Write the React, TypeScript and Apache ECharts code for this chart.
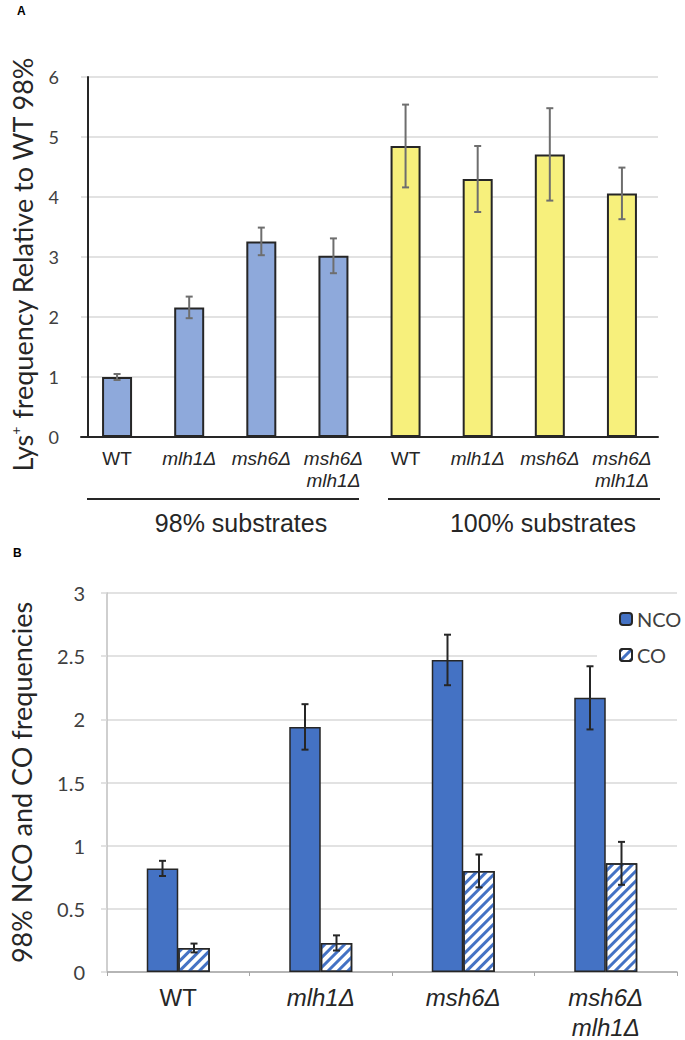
import React, { useEffect, useRef } from 'react';
import * as echarts from 'echarts';

// ---------- Panel A data ----------
const categoriesA = ['WT', 'mlh1Δ', 'msh6Δ', 'msh6Δ\nmlh1Δ', 'WT', 'mlh1Δ', 'msh6Δ', 'msh6Δ\nmlh1Δ'];
const values98 = [1.0, 2.16, 3.26, 3.02];
const errors98 = [0.05, 0.18, 0.23, 0.29];
const values100 = [4.85, 4.3, 4.71, 4.06];
const errors100 = [0.69, 0.55, 0.77, 0.43];
const groupLabelsA = ['98% substrates', '100% substrates'];
const titleA = '{a|Lys}{s|+}{a| frequency Relative to WT 98%}';

// ---------- Panel B data ----------
const categoriesB = ['WT', 'mlh1Δ', 'msh6Δ', 'msh6Δ\nmlh1Δ'];
const seriesNames = ['NCO', 'CO'];
const valuesNCO = [0.82, 1.94, 2.47, 2.17];
const errorsNCO = [0.06, 0.18, 0.2, 0.25];
const valuesCO = [0.19, 0.23, 0.8, 0.86];
const errorsCO = [0.035, 0.06, 0.13, 0.17];
const titleB = '98% NCO and CO frequencies';

const BLUE_LIGHT = '#8EA9DB';
const YELLOW = '#F7F07C';
const BLUE = '#4472C4';
const DARK = '#262626';
const GRID = '#d9d9d9';
const CALIBRI = 'Lato, "Open Sans", sans-serif';
const ARIAL = '"Liberation Sans", Arial, sans-serif';

const labelFormatter = (v: string) =>
  v
    .split('\n')
    .map((s) => (s === 'WT' ? `{n|${s}}` : `{i|${s}}`))
    .join('\n');

const makeErrRender = (offset: number, color: string, hw: number) => (params: any, api: any) => {
  const x = api.value(0);
  const lo = api.value(1);
  const hi = api.value(2);
  const pLo = api.coord([x, lo]);
  const pHi = api.coord([x, hi]);
  const cx = pLo[0] + offset;
  const style = { stroke: color, lineWidth: 2 };
  return {
    type: 'group',
    children: [
      { type: 'line', shape: { x1: cx, y1: pHi[1], x2: cx, y2: pLo[1] }, style },
      { type: 'line', shape: { x1: cx - hw, y1: pHi[1], x2: cx + hw, y2: pHi[1] }, style },
      { type: 'line', shape: { x1: cx - hw, y1: pLo[1], x2: cx + hw, y2: pLo[1] }, style },
    ],
  };
};

export default function App() {
  const ref = useRef<HTMLDivElement>(null);

  useEffect(() => {
    if (!ref.current) return;
    const chart = echarts.init(ref.current, undefined, { renderer: 'svg' });

    const barDataA = [
      ...values98.map((v) => ({ value: v, itemStyle: { color: BLUE_LIGHT } })),
      ...values100.map((v) => ({ value: v, itemStyle: { color: YELLOW } })),
    ];
    const allVals = [...values98, ...values100];
    const allErrs = [...errors98, ...errors100];
    const errDataA = allVals.map((v, i) => [i, v - allErrs[i], v + allErrs[i]]);
    const errDataNCO = valuesNCO.map((v, i) => [i, v - errorsNCO[i], v + errorsNCO[i]]);
    const errDataCO = valuesCO.map((v, i) => [i, v - errorsCO[i], v + errorsCO[i]]);

    const richA = {
      n: { fontFamily: ARIAL, fontSize: 19, color: DARK, lineHeight: 22 },
      i: { fontFamily: ARIAL, fontSize: 19, color: DARK, lineHeight: 22, fontStyle: 'italic' },
    };
    const richB = {
      n: { fontFamily: ARIAL, fontSize: 24, color: DARK, lineHeight: 30 },
      i: { fontFamily: ARIAL, fontSize: 24, color: DARK, lineHeight: 30, fontStyle: 'italic' },
    };

    const barWB = 31.5;

    chart.setOption({
      animation: false,
      backgroundColor: '#fff',
      grid: [
        { left: 81, top: 77, width: 577, height: 360 },
        { left: 103, top: 593, width: 574, height: 379 },
      ],
      legend: {
        data: seriesNames,
        orient: 'vertical',
        left: 597,
        top: 604,
        padding: [5, 5, 5, 22],
        backgroundColor: '#fff',
        itemWidth: 12,
        itemHeight: 12,
        itemGap: 16,
        textStyle: { fontFamily: CALIBRI, fontSize: 20, color: '#404040' },
      },
      xAxis: [
        {
          type: 'category',
          gridIndex: 0,
          data: categoriesA,
          axisLine: { lineStyle: { color: DARK, width: 2 } },
          axisTick: { show: false },
          axisLabel: { formatter: labelFormatter, rich: richA, margin: 10, interval: 0 },
        },
        {
          type: 'category',
          gridIndex: 1,
          data: categoriesB,
          axisLine: { lineStyle: { color: '#a6a6a6', width: 1.5 } },
          axisTick: { show: true, length: 4, lineStyle: { color: '#a6a6a6' } },
          axisLabel: { formatter: labelFormatter, rich: richB, margin: 10, interval: 0 },
        },
      ],
      yAxis: [
        {
          type: 'value',
          gridIndex: 0,
          min: 0,
          max: 6,
          interval: 1,
          offset: -7,
          axisLine: { show: true, lineStyle: { color: DARK, width: 2 } },
          axisTick: { show: false },
          axisLabel: { fontFamily: CALIBRI, fontSize: 18, color: '#404040', margin: 29 },
          splitLine: { lineStyle: { color: GRID, width: 1.5 } },
          name: titleA,
          nameLocation: 'middle',
          nameGap: 52,
          nameRotate: 90,
          nameTextStyle: {
            padding: [0, 14, 0, 0],
            rich: {
              a: { fontFamily: CALIBRI, fontSize: 27, color: DARK },
              s: { fontFamily: CALIBRI, fontSize: 14, color: DARK, padding: [0, 0, 14, 0] },
            },
          },
        },
        {
          type: 'value',
          gridIndex: 1,
          min: 0,
          max: 3,
          interval: 0.5,
          axisLine: { show: true, lineStyle: { color: '#bfbfbf', width: 1.5 } },
          axisTick: { show: true, length: 6, lineStyle: { color: GRID, width: 1.5 } },
          axisLabel: { fontFamily: CALIBRI, fontSize: 20, color: '#404040', margin: 22 },
          splitLine: { lineStyle: { color: GRID, width: 1.5 } },
          name: titleB,
          nameLocation: 'middle',
          nameGap: 72,
          nameRotate: 90,
          nameTextStyle: { fontFamily: CALIBRI, fontSize: 27, color: DARK },
        },
      ],
      series: [
        {
          type: 'bar',
          xAxisIndex: 0,
          yAxisIndex: 0,
          barWidth: 30,
          data: barDataA,
          itemStyle: { borderColor: DARK, borderWidth: 2 },
        },
        {
          type: 'custom',
          xAxisIndex: 0,
          yAxisIndex: 0,
          z: 5,
          renderItem: makeErrRender(0, '#6e6e6e', 3.5),
          data: errDataA,
        },
        {
          name: seriesNames[0],
          type: 'bar',
          xAxisIndex: 1,
          yAxisIndex: 1,
          barWidth: barWB,
          barGap: '0%',
          data: valuesNCO,
          itemStyle: { color: BLUE, borderColor: DARK, borderWidth: 1.5 },
        },
        {
          name: seriesNames[1],
          type: 'bar',
          xAxisIndex: 1,
          yAxisIndex: 1,
          barWidth: barWB,
          barGap: '0%',
          data: valuesCO,
          itemStyle: {
            color: '#ffffff',
            borderColor: DARK,
            borderWidth: 1.5,
            decal: {
              symbol: 'rect',
              symbolSize: 1,
              color: BLUE,
              dashArrayX: [1, 0],
              dashArrayY: [3, 4],
              rotation: -Math.PI / 4,
            },
          },
        },
        {
          type: 'custom',
          xAxisIndex: 1,
          yAxisIndex: 1,
          z: 5,
          renderItem: makeErrRender(-barWB / 2, DARK, 3.5),
          data: errDataNCO,
        },
        {
          type: 'custom',
          xAxisIndex: 1,
          yAxisIndex: 1,
          z: 5,
          renderItem: makeErrRender(barWB / 2, DARK, 3.5),
          data: errDataCO,
        },
      ],
      graphic: [
        { type: 'text', left: 17, top: 5, style: { text: 'A', fontFamily: ARIAL, fontWeight: 'bold', fontSize: 12, fill: '#000' } },
        { type: 'text', left: 13, top: 547, style: { text: 'B', fontFamily: ARIAL, fontWeight: 'bold', fontSize: 12, fill: '#000' } },
        { type: 'line', shape: { x1: 87, y1: 499, x2: 359, y2: 499 }, style: { stroke: DARK, lineWidth: 2 } },
        { type: 'line', shape: { x1: 388, y1: 499, x2: 660, y2: 499 }, style: { stroke: DARK, lineWidth: 2 } },
        {
          type: 'text',
          x: 241,
          y: 523,
          style: { text: groupLabelsA[0], fontFamily: ARIAL, fontSize: 25, fill: DARK, align: 'center', verticalAlign: 'middle' },
        },
        {
          type: 'text',
          x: 543,
          y: 523,
          style: { text: groupLabelsA[1], fontFamily: ARIAL, fontSize: 25, fill: DARK, align: 'center', verticalAlign: 'middle' },
        },
      ],
    });

    return () => chart.dispose();
  }, []);

  return <div ref={ref} style={{ position: 'absolute', left: 0, top: 0, width: 685, height: 1040 }} />;
}
